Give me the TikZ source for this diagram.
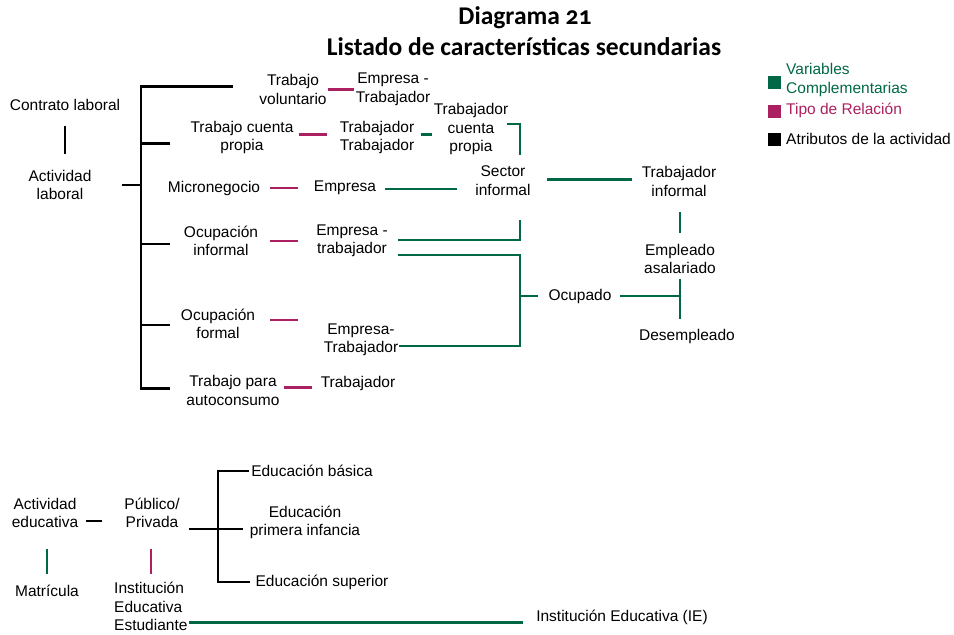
\documentclass[tikz,border=0pt]{standalone}
\usepackage{fontspec}
\setmainfont{Liberation Sans}
\newfontfamily\titfont[Numbers=OldStyle]{Carlito}
\usepackage{tikz}

\definecolor{cverde}{RGB}{0,104,71}
\definecolor{crosa}{RGB}{170,32,96}

\tikzset{
  txt/.style={inner sep=1pt, align=center, font=\fontsize{15.5}{18.5}\selectfont},
  lnegra/.style={line width=2.2pt, black},
  lverde/.style={line width=2.2pt, cverde},
  lrosa/.style={line width=2.2pt, crosa},
  cuadro/.style={minimum size=12.5pt, inner sep=0pt},
  titulo/.style={inner sep=1pt, align=center, font=\titfont\bfseries\fontsize{25.5}{30}\selectfont}
}

\begin{document}
\begin{tikzpicture}[x=1pt, y=-1pt]
  \useasboundingbox (0,0) rectangle (954,635);
  \node[titulo] (t1) at (525,18) {Diagrama 21};
  \node[titulo] (t2) at (524,47) {Listado de características secundarias};
  \node[cuadro, fill=cverde] (lv) at (774.5,82.5) {};
  \node[cuadro, fill=crosa] (lr) at (774.5,111.5) {};
  \node[cuadro, fill=black] (la) at (774.5,139.5) {};
  \node[txt, anchor=west, align=left, text=cverde] (lvt) at (785,80) {Variables\\Complementarias};
  \node[txt, anchor=west, text=crosa] (lrt) at (785,110) {Tipo de Relación};
  \node[txt, anchor=west] (lat) at (785,139) {Atributos de la actividad};
  \node[txt] (cl) at (65,105) {Contrato laboral};
  \node[txt] (al) at (60,185) {Actividad\\laboral};
  \node[txt] (tv) at (293,89.5) {Trabajo\\voluntario};
  \node[txt] (et1) at (393,89.5) {Empresa -\\Trabajador};
  \node[txt] (tcp1) at (242,137.5) {Trabajo cuenta\\propia};
  \node[txt] (tt) at (377,137.5) {Trabajador\\Trabajador};
  \node[txt] (tcp2) at (471,129) {Trabajador\\cuenta\\propia};
  \node[txt] (mn) at (214,188) {Micronegocio};
  \node[txt] (em) at (345,188) {Empresa};
  \node[txt] (si) at (503,180.5) {Sector\\informal};
  \node[txt] (ti) at (679,181.5) {Trabajador\\informal};
  \node[txt] (ea) at (680,259) {Empleado\\asalariado};
  \node[txt] (oc) at (580,296) {Ocupado};
  \node[txt] (de) at (687,336) {Desempleado};
  \node[txt] (oi) at (221,241) {Ocupación\\informal};
  \node[txt] (et2) at (352,241) {Empresa -\\trabajador};
  \node[txt] (of) at (218,324) {Ocupación\\formal};
  \node[txt] (et3) at (361,340) {Empresa-\\Trabajador};
  \node[txt] (ta) at (233,390.5) {Trabajo para\\autoconsumo};
  \node[txt] (tr) at (358,383) {Trabajador};
  \node[txt] (ae) at (45,513) {Actividad\\educativa};
  \node[txt] (pp) at (152,513) {Público/\\Privada};
  \node[txt] (eb) at (312,471) {Educación básica};
  \node[txt] (epi) at (305,522.5) {Educación\\primera infancia};
  \node[txt] (es) at (322,582) {Educación superior};
  \node[txt] (mat) at (47,591) {Matrícula};
  \node[txt, anchor=west, align=left] (iee) at (113,606.5) {Institución\\Educativa\\Estudiante};
  \node[txt] (ie) at (622,617) {Institución Educativa (IE)};
  \coordinate (si-top) at (520,155);
  \coordinate (si-bot) at (520,220);
  \coordinate (oc-k) at (520,296);
  \coordinate (ea-k) at (680,296);
  \coordinate (ed-k) at (218,529);
  \draw[lnegra, shorten <=14pt, shorten >=15pt] (cl.south) -- (cl.south |- al.north);
  \draw[lnegra, shorten <=29pt] (al.east) -- ++(49,0);
  \draw[lnegra] ([xshift=-25pt,yshift=3pt]tv.west) -| ([xshift=-44.5pt,yshift=2pt]ta.west) -- ++(29,0);
  \draw[lnegra] ([xshift=-19pt,yshift=-6pt]tcp1.west) -- ++(-29,0);
  \draw[lnegra] ([xshift=-13pt,yshift=-3pt]oi.west) -- ++(-29,0);
  \draw[lnegra] ([xshift=-10pt,yshift=-1pt]of.west) -- ++(-29,0);
  \draw[lrosa, shorten >=1pt] (tv.east) -- (tv.east -| et1.west);
  \draw[lrosa, shorten <=4pt, shorten >=12pt] ([yshift=3pt]tcp1.east) -- ([yshift=3pt]tcp1.east -| tt.west);
  \draw[lrosa, shorten <=9pt, shorten >=15pt] (mn.east) -- (mn.east -| em.west);
  \draw[lrosa, shorten <=11pt, shorten >=17pt] (oi.east) -- (oi.east -| et2.west);
  \draw[lrosa] ([xshift=14pt,yshift=4pt]of.east) -- ++(28,0);
  \draw[lrosa, shorten <=3.5pt, shorten >=7.5pt] ([yshift=3pt]ta.east) -- ([yshift=3pt]ta.east -| tr.west);
  \draw[lverde] ([xshift=5.5pt,yshift=3pt]tt.east) -- ++(11,0);
  \draw[lverde, shorten <=8pt, shorten >=17.5pt] ([yshift=-1pt]em.east) -- ([yshift=-1pt]em.east -| si.west);
  \draw[lverde, shorten <=15.5pt, shorten >=8.5pt] ([yshift=1pt]si.east) -- ([yshift=1pt]si.east -| ti.west);
  \draw[lverde, shorten <=14pt, shorten >=10pt] ([xshift=1pt]ti.south) -- ([xshift=1pt]ti.south |- ea.north);
  \draw[lverde] ([xshift=-2pt,yshift=5pt]tcp2.east) -| (si-top);
  \draw[lverde] ([xshift=9pt,yshift=1pt]et2.east) -| (si-bot);
  \draw[lverde] ([xshift=9pt,yshift=-14pt]et2.east) -| (oc-k) |- ([yshift=-6pt]et3.east);
  \draw[lverde, shorten >=9.5pt] (oc-k) -- (oc.west);
  \draw[lverde, shorten <=7.5pt] (oc.east) -- (ea-k);
  \draw[lverde, shorten <=3.5pt, shorten >=8.5pt] (ea.south) -- (ea.south |- de.north);
  \draw[lnegra, shorten <=7pt, shorten >=21.5pt] ([yshift=-8pt]ae.east) -- ([yshift=-8pt]ae.east -| pp.west);
  \draw[lnegra, shorten <=8pt, shorten >=6pt] ([yshift=-16pt]pp.east) -- ([yshift=-16pt]pp.east -| epi.west);
  \draw[lnegra, shorten <=1pt, shorten >=4pt] (eb.west) -| (ed-k) |- (es.west);
  \draw[lverde, shorten <=19.5pt, shorten >=10pt] ([xshift=2pt]ae.south) -- ([xshift=2pt]ae.south |- mat.north);
  \draw[lrosa, shorten <=19.5pt, shorten >=7pt] ([xshift=-1pt]pp.south) -- ([xshift=-1pt]pp.south |- iee.north);
  \draw[lverde, shorten >=12pt] ([yshift=-16pt]iee.east) -- ([yshift=-16pt]iee.east -| ie.west);
\end{tikzpicture}
\end{document}
